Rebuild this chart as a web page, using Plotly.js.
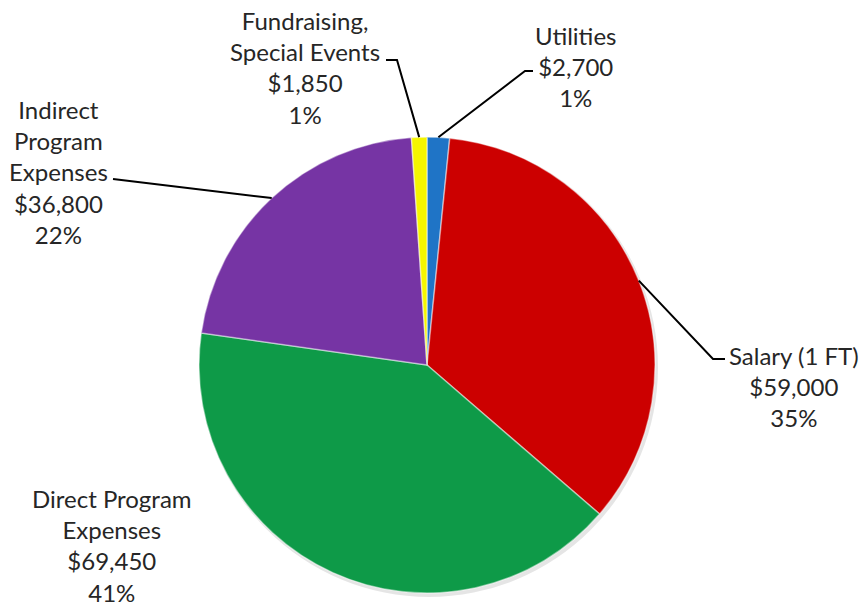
<!DOCTYPE html>
<html>
<head>
<meta charset="utf-8">
<script src="https://cdn.plot.ly/plotly-3.0.1.min.js"></script>
<style>html,body{margin:0;padding:0;background:#fff;}#chart{width:862px;height:607px;}</style>
</head>
<body>
<div id="chart"></div>
<script>
// ---- data ----
const categories = ["Utilities", "Salary (1 FT)", "Direct Program Expenses", "Indirect Program Expenses", "Fundraising, Special Events"];
const labelLines = ["Utilities", "Salary (1 FT)", "Direct Program<br>Expenses", "Indirect<br>Program<br>Expenses", "Fundraising,<br>Special Events"];
const amounts = [2700, 59000, 69450, 36800, 1850];
const pctLabels = ["1%", "35%", "41%", "22%", "1%"];
const colors = ["#1f74c6", "#cc0000", "#0e9a48", "#7634a4", "#f5f500"];

// ---- layout constants (pixels) ----
const W = 862, H = 607;
const CX = 427, CY = 365, R = 228;
const px = x => x / W;
const py = y => 1 - y / H;

// label positions and leader-line elbows (null = no leader line)
const labelPos = [[575, 66], [794, 386], [112, 545], [58, 172], [305, 68]];
const elbows = [
  [[525, 71], [533, 71]],
  [[713, 359], [725, 359]],
  null,
  [[113, 179]],
  [[397, 60], [386, 60]]
];

const total = amounts.reduce((a, b) => a + b, 0);
const fmt = v => "$" + v.toLocaleString("en-US");

const annotations = [];
const shapes = [];
// soft shadow under the pie
shapes.push({type: "circle", xref: "paper", yref: "paper", layer: "below",
  x0: px(CX - R + 1), x1: px(CX + R + 3), y0: py(CY + R + 4), y1: py(CY - R + 1),
  fillcolor: "rgba(0,0,0,0.10)", line: {width: 0}});

let cum = 0;
amounts.forEach((v, i) => {
  const th = 2 * Math.PI * (cum + v / 2) / total;
  cum += v;
  annotations.push({
    xref: "paper", yref: "paper", x: px(labelPos[i][0]), y: py(labelPos[i][1]),
    xanchor: "center", yanchor: "middle", showarrow: false, align: "center",
    text: labelLines[i] + "<br>" + fmt(v) + "<br>" + pctLabels[i],
    font: {family: "Lato, 'Liberation Sans', sans-serif", size: 24, color: "#262626"}
  });
  if (elbows[i]) {
    const ex = CX + R * Math.sin(th), ey = CY - R * Math.cos(th);
    let d = "M" + px(ex) + "," + py(ey);
    elbows[i].forEach(p => { d += " L" + px(p[0]) + "," + py(p[1]); });
    shapes.push({type: "path", xref: "paper", yref: "paper", path: d,
      line: {color: "#000", width: 2}});
  }
});

const trace = {
  type: "pie",
  labels: categories,
  values: amounts,
  sort: false,
  direction: "clockwise",
  rotation: 0,
  textinfo: "none",
  textposition: "inside",
  hoverinfo: "label+value+percent",
  marker: {colors: colors, line: {color: "rgba(255,255,255,0.45)", width: 1.5}},
  domain: {x: [px(CX - R), px(CX + R)], y: [py(CY + R), py(CY - R)]},
  showlegend: false
};

const layout = {
  width: W, height: H,
  margin: {l: 0, r: 0, t: 0, b: 0},
  paper_bgcolor: "#fff",
  showlegend: false,
  annotations: annotations,
  shapes: shapes
};

Plotly.newPlot("chart", [trace], layout, {staticPlot: true});
</script>
</body>
</html>
